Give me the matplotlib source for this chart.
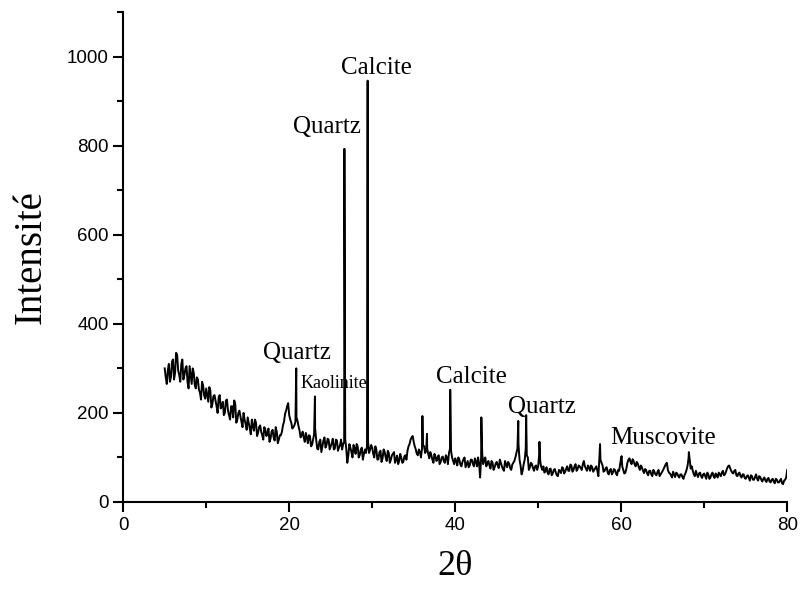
import numpy as np
import matplotlib
matplotlib.use("Agg")
import matplotlib.pyplot as plt
from matplotlib.ticker import MultipleLocator

# Diffractogramme : deux séries entrelacées (pas de 0.25 deg, décalées de 0.125 deg)
scan_start = 5.0
scan_step = 0.25
intensite_fond = [
    # 5.00 - 9.75
    300, 265, 310, 280, 320, 290, 330, 285, 310, 275, 300, 270, 305, 265, 290, 255, 275, 245, 270, 240,
    # 10.00 - 14.75
    255, 225, 250, 220, 240, 215, 235, 210, 225, 200, 230, 195, 215, 190, 220, 185, 205, 180, 200, 175,
    # 15.00 - 19.75
    190, 165, 185, 160, 178, 155, 172, 150, 168, 148, 165, 142, 162, 138, 158, 140, 150, 172, 198, 215,
    # 20.00 - 24.75
    195, 178, 168, 180, 182, 160, 150, 145, 155, 132, 148, 128, 152, 140, 118, 140, 125, 145, 128, 140,
    # 25.00 - 29.75
    125, 142, 120, 138, 122, 140, 130, 140, 88, 130, 112, 128, 108, 125, 105, 122, 108, 110, 135, 118,
    # 30.00 - 34.75
    122, 100, 118, 96, 115, 98, 112, 92, 110, 95, 108, 88, 104, 92, 100, 90, 105, 115, 130, 145,
    # 35.00 - 39.75
    135, 118, 105, 112, 120, 125, 115, 108, 112, 95, 108, 92, 105, 90, 102, 88, 100, 110, 115, 92,
    # 40.00 - 44.75
    98, 82, 95, 80, 96, 78, 92, 82, 95, 80, 90, 100, 55, 110, 95, 80, 92, 75, 88, 78,
    # 45.00 - 49.75
    90, 76, 88, 74, 92, 78, 86, 72, 88, 100, 120, 95, 62, 85, 120, 100, 78, 85, 70, 82,
    # 50.00 - 54.75
    80, 90, 72, 66, 78, 62, 75, 64, 74, 60, 72, 65, 76, 68, 80, 70, 82, 72, 85, 74,
    # 55.00 - 59.75
    80, 72, 92, 75, 82, 70, 78, 72, 80, 58, 95, 82, 70, 78, 62, 74, 66, 72, 60, 70,
    # 60.00 - 64.75
    100, 72, 66, 88, 98, 85, 92, 80, 86, 72, 78, 65, 72, 60, 70, 58, 68, 60, 72, 62,
    # 65.00 - 69.75
    70, 80, 88, 66, 60, 68, 56, 64, 55, 62, 52, 65, 82, 95, 80, 62, 70, 56, 66, 54,
    # 70.00 - 74.75
    64, 52, 62, 55, 66, 54, 60, 66, 58, 70, 62, 75, 82, 70, 64, 72, 58, 66, 55, 62,
    # 75.00 - 80.00
    52, 60, 48, 58, 50, 62, 48, 56, 46, 55, 45, 54, 44, 52, 42, 50, 44, 52, 40, 50, 72,
]
intensite_fond_b = [
    # 5.125 - 9.875
    280, 295, 270, 315, 275, 335, 295, 270, 320, 285, 305, 255, 285, 300, 262, 280, 252, 230, 262, 232,
    # 10.125 - 14.875
    240, 258, 212, 238, 228, 200, 240, 216, 195, 228, 205, 185, 215, 228, 178, 200, 192, 168, 185, 162,
    # 15.125 - 19.875
    178, 152, 170, 185, 148, 168, 158, 140, 162, 155, 135, 158, 145, 168, 132, 150, 158, 180, 205, 222,
    # 20.125 - 24.875
    185, 165, 172, 190, 170, 145, 158, 135, 145, 150, 125, 140, 165, 120, 135, 112, 138, 122, 142, 118,
    # 25.125 - 29.875
    132, 118, 140, 115, 128, 118, 135, 120, 105, 122, 100, 120, 130, 100, 118, 95, 118, 125, 110, 128,
    # 30.125 - 34.875
    108, 125, 95, 112, 90, 118, 100, 115, 88, 105, 112, 95, 85, 108, 88, 102, 95, 125, 140, 148,
    # 35.125 - 39.875
    125, 108, 118, 100, 128, 110, 120, 98, 105, 88, 102, 98, 85, 100, 92, 105, 85, 120, 100, 85,
    # 40.125 - 44.875
    92, 100, 84, 90, 100, 85, 78, 95, 86, 98, 80, 88, 100, 85, 100, 88, 82, 92, 72, 86,
    # 45.125 - 49.875
    82, 95, 80, 70, 85, 90, 76, 84, 92, 110, 130, 82, 70, 95, 105, 72, 88, 76, 80, 72,
    # 50.125 - 54.875
    110, 78, 80, 70, 66, 74, 60, 72, 66, 58, 70, 78, 64, 75, 70, 84, 68, 80, 70, 82,
    # 55.125 - 59.875
    76, 85, 80, 70, 78, 82, 68, 76, 70, 100, 88, 68, 76, 66, 72, 62, 74, 64, 72, 85,
    # 60.125 - 64.875
    80, 64, 75, 95, 90, 96, 84, 90, 78, 82, 70, 74, 64, 70, 62, 72, 62, 68, 58, 66,
    # 65.125 - 69.875
    75, 85, 72, 64, 55, 62, 66, 58, 62, 56, 60, 72, 100, 75, 70, 58, 62, 64, 58, 62,
    # 70.125 - 74.875
    58, 66, 52, 62, 58, 64, 55, 62, 66, 60, 68, 80, 76, 66, 70, 60, 64, 58, 62, 54,
    # 75.125 - 79.875
    58, 54, 60, 50, 56, 52, 58, 50, 52, 48, 52, 46, 50, 46, 52, 44, 48, 42, 48, 55,
]

# Pics fins
pics_2theta = [20.85, 23.1, 26.65, 29.45, 36.05, 36.6, 39.4, 43.15, 47.6, 48.55, 50.15, 57.45, 60.05, 68.15]
pics_intensite = [300, 237, 793, 946, 193, 153, 252, 190, 182, 195, 135, 130, 103, 112]

# Annotations des phases
phases = ["Quartz", "Calcite", "Quartz", "Kaolinite", "Calcite", "Quartz", "Muscovite"]
phases_x = [24.6, 30.5, 20.9, 25.4, 42.0, 50.4, 65.1]
phases_y = [829, 962, 321, 256, 267, 200, 130]
phases_taille = [18, 18, 18, 13, 18, 18, 18]

fond_x = scan_start + scan_step * np.arange(len(intensite_fond))
fond_x_b = scan_start + scan_step / 2 + scan_step * np.arange(len(intensite_fond_b))
x = np.concatenate([fond_x, fond_x_b, pics_2theta])
y = np.concatenate([intensite_fond, intensite_fond_b, pics_intensite])
ordre = np.argsort(x)
x, y = x[ordre], y[ordre]

fig = plt.figure(figsize=(8, 5.91), dpi=100)
ax = fig.add_axes([0.154, 0.1506, 0.83, 0.829])

ax.plot(x, y, color="black", linewidth=1.4)

for nom, px, py, t in zip(phases, phases_x, phases_y, phases_taille):
    ax.text(px, py, nom, ha="center", va="baseline", fontsize=t, family="Liberation Serif")

ax.set_xlim(0, 80)
ax.set_ylim(0, 1100)
ax.xaxis.set_major_locator(MultipleLocator(20))
ax.xaxis.set_minor_locator(MultipleLocator(10))
ax.yaxis.set_major_locator(MultipleLocator(200))
ax.yaxis.set_minor_locator(MultipleLocator(100))
ax.set_yticks([0, 200, 400, 600, 800, 1000])

for s in ["top", "right"]:
    ax.spines[s].set_visible(False)
for s in ["left", "bottom"]:
    ax.spines[s].set_linewidth(1.5)

ax.tick_params(which="major", direction="out", length=7, width=1.5, labelsize=13.5)
ax.tick_params(which="minor", direction="out", length=4, width=1.5)
for lab in ax.get_xticklabels() + ax.get_yticklabels():
    lab.set_family("Liberation Sans")

ax.set_ylabel("Intensité", fontsize=28, family="Liberation Serif", labelpad=12)
ax.set_xlabel("2θ", fontsize=26, family="Liberation Serif", labelpad=12)

fig.savefig("out.png", dpi=100)
